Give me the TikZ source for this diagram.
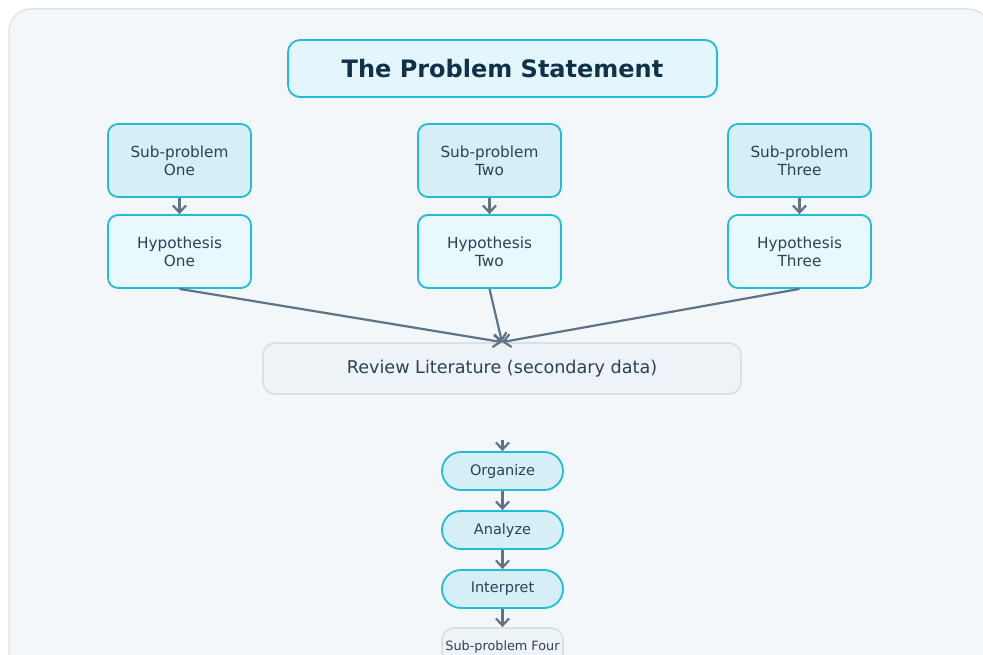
\documentclass[tikz,border=0pt]{standalone}
\usepackage{fontspec}
\setmainfont{DejaVu Sans}
\usetikzlibrary{arrows.meta,positioning}
\definecolor{panel}{HTML}{F3F7FA}
\definecolor{panelline}{HTML}{DCE6EC}
\definecolor{cyanline}{HTML}{22BCD6}
\definecolor{subfill}{HTML}{D6EFF7}
\definecolor{hypfill}{HTML}{E8F8FD}
\definecolor{titlefill}{HTML}{E3F6FB}
\definecolor{greyfill}{HTML}{EEF3F7}
\definecolor{greyline}{HTML}{D5E2EA}
\definecolor{ink}{HTML}{2D4156}
\definecolor{navy}{HTML}{12304A}
\definecolor{slate}{HTML}{5E7386}
\tikzset{
  box/.style={draw=cyanline, line width=1.8pt, rounded corners=10pt, align=center,
    text=ink, font=\fontsize{15.3}{18}\selectfont, minimum width=143pt, minimum height=73pt, inner sep=0pt},
  subbox/.style={box, fill=subfill},
  hypbox/.style={box, fill=hypfill},
  pill/.style={draw=cyanline, line width=1.8pt, rounded corners=19pt, fill=subfill, text=ink,
    font=\fontsize{14.5}{16}\selectfont, minimum width=121pt, minimum height=38pt, inner sep=0pt},
  greybox/.style={draw=greyline, line width=1.8pt, fill=greyfill, text=ink},
  link/.style={draw=slate, line width=2.2pt, -{Straight Barb[length=7pt,width=13pt,line width=2.2pt]}},
}

\begin{document}
\begin{tikzpicture}[x=1pt,y=-1pt]
  \useasboundingbox (0,0) rectangle (983,655);
  % background panel
  \begin{scope}
    \clip (0,0) rectangle (983,655);
    \draw[panelline, fill=panel, line width=1.5pt, rounded corners=22pt] (9,9) rectangle (990,700);
  \end{scope}
  % title
  \node[draw=cyanline, line width=1.8pt, rounded corners=12pt, fill=titlefill, text=navy,
    font=\fontsize{24}{28}\selectfont\bfseries, minimum width=429pt, minimum height=57pt]
    (title) at (502.5,68.5) {The Problem Statement};
  % three branches
  \node[subbox] (sub1) at (179.5,160.5) {Sub-problem\\One};
  \node[subbox] (sub2) at (489.5,160.5) {Sub-problem\\Two};
  \node[subbox] (sub3) at (799.5,160.5) {Sub-problem\\Three};
  \node[hypbox] (hyp1) at (179.5,251.5) {Hypothesis\\One};
  \node[hypbox] (hyp2) at (489.5,251.5) {Hypothesis\\Two};
  \node[hypbox] (hyp3) at (799.5,251.5) {Hypothesis\\Three};
  \foreach \i in {1,2,3} \draw[link] (sub\i) -- (hyp\i);
  % literature
  \node[greybox, rounded corners=12pt, font=\fontsize{17.6}{20}\selectfont,
    minimum width=478pt, minimum height=51pt] (review) at (502,368.5)
    {Review Literature (secondary data)};
  \foreach \i in {1,2,3} \draw[link] (hyp\i.south) -- (review.north);
  % data steps
  \node[pill] (org) at (502.5,471) {Organize};
  \node[pill] (ana) at (502.5,530) {Analyze};
  \node[pill] (int) at (502.5,589) {Interpret};
  \node[greybox, rounded corners=12pt, font=\fontsize{12.8}{14}\selectfont,
    minimum width=121pt, minimum height=38pt, inner sep=0pt] (sub4) at (502.5,647) {Sub-problem Four};
  \coordinate (gap) at (502.5,440);
  \draw[link] (gap) -- (org);
  \draw[link] (org) -- (ana);
  \draw[link] (ana) -- (int);
  \draw[link] (int) -- (sub4);
\end{tikzpicture}
\end{document}
